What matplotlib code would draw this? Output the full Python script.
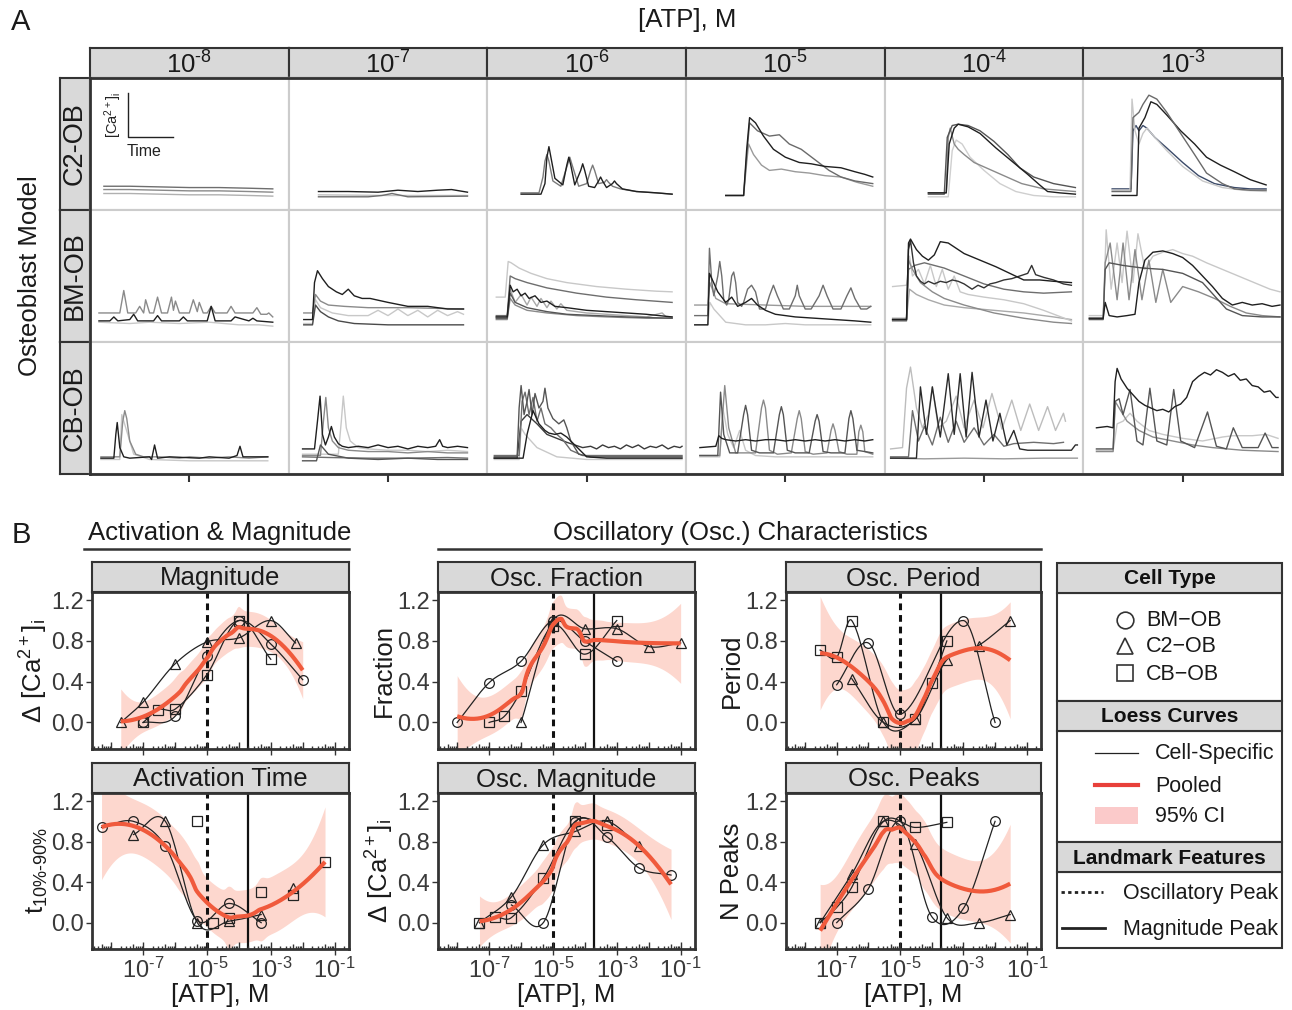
import numpy as np
import matplotlib.pyplot as plt
from matplotlib.patches import Rectangle

plt.rcParams['font.family'] = ['Liberation Sans', 'DejaVu Sans']
plt.rcParams['mathtext.fontset'] = 'custom'
plt.rcParams['mathtext.rm'] = 'Liberation Sans'
plt.rcParams['mathtext.it'] = 'Liberation Sans:italic'
plt.rcParams['mathtext.bf'] = 'Liberation Sans:bold'

# ---------------- Panel A data: [Ca2+]i traces ----------------
# each trace: (time in % of recording window, signal in % of panel height)
atp_cols = [r'$10^{\text{-}8}$', r'$10^{\text{-}7}$', r'$10^{\text{-}6}$',
            r'$10^{\text{-}5}$', r'$10^{\text{-}4}$', r'$10^{\text{-}3}$']
models = ['C2-OB', 'BM-OB', 'CB-OB']

c2_8 = [
    ([7, 20, 35, 50, 65, 80, 92], [18, 18, 17.5, 17, 17, 16.5, 16]),
    ([7, 20, 35, 50, 65, 80, 92], [15.5, 15.5, 15, 14.5, 14.5, 14, 13.5]),
    ([7, 20, 35, 50, 65, 80, 92], [12.5, 12.5, 12, 11.5, 11.5, 11, 10.5]),
]
c2_7 = [
    ([15, 30, 45, 55, 65, 75, 82, 90], [14, 14, 13.5, 15, 14, 15, 15.5, 13.5]),
    ([15, 40, 47, 52, 60, 90], [10, 10, 11, 12.5, 10, 10.5]),
    ([15, 50, 90], [11.5, 11, 11]),
]
c2_6 = [
    ([17, 27, 29, 30, 31, 32, 34, 38, 40, 41, 42, 44, 47, 48, 49, 51, 54, 56, 57, 58, 60, 63,
      64, 65, 68, 75, 85, 93],
     [12, 12, 20, 40, 48, 40, 24, 19, 34, 40, 34, 19, 30, 35, 30, 18, 17, 22, 25, 22, 17, 20,
      22, 20, 16, 14, 13, 12]),
    ([17, 26, 28, 29, 30, 31, 33, 37, 40.5, 41.5, 42.5, 46, 50, 52, 53, 54, 56, 59, 60, 61, 63,
      67, 75, 85, 93],
     [13, 13, 25, 37, 42, 37, 22, 18, 35, 40, 35, 18, 20, 30, 34, 30, 20, 21, 23, 21, 18,
      16, 14, 13, 12]),
]
c2_5 = [
    ([20, 29, 30.5, 32, 35, 39, 44, 50, 57, 63, 70, 78, 85, 90, 94],
     [11, 11, 45, 70, 66, 56, 46, 40, 36, 35, 33, 32, 29, 27, 25]),
    ([20, 29, 30.5, 32, 36, 42, 47, 52, 58, 65, 72, 78, 85, 94],
     [11, 11, 40, 66, 60, 56, 57, 50, 46, 38, 30, 25, 22, 20]),
    ([20, 29, 30.5, 31.5, 34, 38, 42, 48, 55, 62, 70, 78, 86, 94],
     [11, 11, 35, 50, 42, 34, 30, 31, 29, 28, 26, 25, 21, 18]),
]
c2_4 = [
    ([22, 31, 32.5, 35, 37, 42, 48, 56, 64, 72, 78, 82, 88, 96],
     [13, 13, 50, 62, 65, 63, 58, 47, 37, 27, 19, 14, 13, 12]),
    ([22, 30, 31.5, 34, 37, 42, 48, 55, 62, 68, 75, 85, 96],
     [12, 12, 55, 64, 65, 64, 60, 52, 42, 32, 25, 20, 17]),
    ([22, 31, 32, 33, 35, 37, 40, 45, 51, 60, 69, 80, 96],
     [13, 13, 55, 62, 50, 46, 42, 36, 32, 26, 20, 16, 14]),
    ([22, 32, 34, 36, 39, 43, 50, 58, 66, 75, 85, 96],
     [10, 10, 45, 53, 50, 40, 30, 20, 14, 11, 10, 10]),
]
c2_3 = [
    ([14.5, 24, 25, 28, 30, 33, 37, 42, 49, 56, 62, 70, 76, 84, 92],
     [14, 14, 70, 74, 80, 87, 84, 74, 58, 42, 28, 20, 16, 15, 15]),
    ([14.5, 27, 28, 31, 34, 37, 42, 49, 56, 62, 69, 76, 84, 92],
     [11, 11, 62, 70, 82, 80, 72, 60, 50, 40, 34, 29, 23, 19]),
    ([14.5, 23.5, 24.5, 26, 28, 30, 32, 36, 42, 50, 60, 70, 80, 92],
     [15, 15, 84, 60, 50, 58, 62, 55, 45, 33, 22, 17, 15, 14]),
    ([14.5, 24, 25, 26.5, 28, 30, 32, 36, 42, 50, 58, 66, 76, 84, 92],
     [16, 16, 60, 64, 60, 64, 62, 55, 47, 36, 26, 20, 17, 16, 16]),
]

bm_8 = [
    ([4.5, 10, 12, 14, 20, 22, 24, 32, 34, 36, 45, 47, 49, 59, 61, 63, 71, 73, 80, 82, 84, 92],
     [16, 16, 19, 16, 17, 21, 16, 16, 20, 16, 16, 19, 16, 16, 27, 16, 16, 19, 16, 18, 16, 15]),
    ([4.5, 15, 17, 19, 23, 25, 27, 28, 30, 32, 34, 36, 39, 41, 42, 43, 45, 50, 52, 54, 55, 57,
      59, 61, 63, 69, 71, 73, 82, 84, 86, 89, 90, 92],
     [22, 22, 39, 22, 22, 27, 22, 32, 22, 22, 34, 22, 22, 34, 24, 31, 22, 22, 32, 23, 30, 22,
      22, 27, 22, 22, 27, 22, 22, 26, 21, 21, 22, 19]),
    ([4.5, 20, 30, 45, 60, 75, 85, 92], [15, 14, 15, 14, 15, 13, 13, 12]),
]
bm_7 = [
    ([7.6, 12, 13, 14.5, 17, 20, 24, 27, 30, 33, 37, 41, 50, 60, 70, 80, 88],
     [17, 17, 45, 54, 48, 42, 38, 36, 40, 35, 33, 33, 30, 27, 27, 25, 25]),
    ([7.6, 12, 13.5, 16, 20, 28, 40, 60, 88], [22, 22, 36, 31, 28, 27, 26, 26, 25]),
    ([7.6, 12, 13.5, 16, 20, 25, 33, 50, 70, 88], [13, 13, 28, 23, 19, 16, 14, 13, 13, 13]),
    ([7.6, 12, 13.5, 16, 22, 30, 40, 45, 50, 55, 60, 65, 70, 75, 80, 85, 88],
     [14, 14, 32, 26, 22, 20, 20, 24, 20, 25, 20, 24, 19, 24, 20, 23, 21]),
]
bm_6 = [
    ([4.5, 10, 11.5, 13, 15, 17, 19, 21, 24, 27, 30, 34, 40, 50, 60, 70, 80, 93],
     [19, 19, 43, 38, 40, 35, 37, 33, 35, 30, 31, 27, 26, 24, 23, 22, 21, 19]),
    ([4.5, 10, 11.5, 14, 20, 30, 40, 55, 70, 93], [18, 18, 37, 30, 26, 23, 21, 20, 19, 18]),
    ([4.5, 10, 11.5, 14, 20, 30, 45, 60, 80, 93], [17, 17, 33, 28, 24, 22, 20, 19, 18, 18]),
    ([4.5, 9, 10.5, 12, 16, 22, 30, 40, 55, 70, 85, 93], [34, 34, 61, 60, 56, 52, 48, 45, 42, 40, 38.5, 38]),
    ([4.5, 10, 11.5, 14, 20, 30, 45, 60, 75, 93], [20, 20, 50, 48, 45, 41, 37, 34, 32, 30]),
    ([4.5, 10, 11.5, 14, 17, 20, 22, 25, 27, 30, 32, 35, 37, 40, 45, 50, 60, 70, 80, 88, 90, 93],
     [19, 19, 40, 30, 36, 28, 34, 27, 33, 26, 31, 25, 29, 24, 23, 22, 21, 20, 19, 22, 19, 19]),
]
bm_5 = [
    ([4.4, 11, 11.8, 13, 16, 20, 23, 26, 30, 33, 36, 40, 45, 55, 65, 75, 85, 93],
     [13, 13, 52, 48, 38, 30, 34, 27, 30, 33, 28, 24, 21, 19, 18, 17, 16, 15]),
    ([4.4, 11, 11.8, 13, 14, 16, 17, 18, 19, 20.5, 21.5, 23, 24, 25, 26, 28, 29, 31, 33, 35, 37,
      40, 42, 44, 46, 49, 52, 55, 56, 57, 60, 63, 67, 69, 71, 74, 78, 81, 83, 85, 88, 91, 93],
     [20, 20, 71, 45, 35, 50, 61, 50, 32, 28, 32, 50, 53, 45, 30, 27, 30, 40, 43, 38, 25, 25, 35,
      43, 35, 25, 25, 35, 43, 35, 25, 25, 35, 43, 35, 25, 25, 35, 41, 33, 25, 25, 27]),
    ([4.4, 11, 12, 15, 20, 40, 60, 93], [28, 28, 45, 33, 29, 28, 27, 27]),
    ([4.4, 11, 12, 14, 20, 30, 40, 50, 60, 75, 93], [13, 13, 30, 25, 15, 13, 13, 14, 13, 13, 13]),
]
bm_4 = [
    ([4, 11, 12, 13, 16, 19, 22, 25, 28, 32, 36, 40, 48, 56, 63, 70, 78, 85, 94],
     [17, 17, 75, 78, 70, 65, 62, 66, 76, 75, 71, 67, 62, 57, 52, 47, 47, 46, 45]),
    ([4, 11, 12, 13, 14.5, 16, 18, 20, 22, 25, 28, 31, 34, 37, 40, 44, 47, 50, 53, 56, 60, 64,
      68, 72, 74, 76, 80, 85, 90, 94],
     [17, 17, 70, 77, 60, 50, 46, 44, 46, 44, 46, 45, 47, 46, 44, 40, 43, 41, 44, 45, 47, 48,
      50, 52, 58, 51, 49, 47, 44, 43]),
    ([4, 11, 12, 14, 18, 24, 30, 40, 55, 70, 85, 94], [17, 17, 62, 55, 45, 38, 33, 28, 22, 18, 15, 14]),
    ([4, 11, 12.5, 14, 17, 20, 23, 26, 29, 32, 35, 38, 42, 50, 60, 70, 80, 94],
     [42, 43, 65, 50, 55, 44, 58, 42, 55, 40, 50, 38, 36, 34, 32, 29, 24, 16]),
    ([4, 11, 12, 15, 20, 30, 40, 50, 60, 70, 80, 94], [16, 16, 55, 58, 60, 56, 50, 44, 40, 38, 37, 38]),
    ([4, 11, 12.5, 16, 22, 30, 40, 55, 70, 85, 94], [18, 18, 40, 36, 32, 28, 26, 24, 22, 19, 17]),
]
bm_3 = [
    ([3, 10, 11, 13, 17, 22, 26, 28, 31, 35, 40, 45, 50, 55, 60, 65, 70, 75, 80, 85, 90, 95, 99],
     [18, 18, 30, 20, 19, 20, 21, 45, 62, 68, 69, 67, 64, 58, 50, 42, 33, 28, 30, 28, 29, 27, 28]),
    ([3, 10, 11, 13, 20, 30, 40, 50, 60, 66, 72, 80, 90, 99], [17, 17, 55, 60, 58, 56, 55, 52, 45, 35, 25, 20, 19, 19]),
    ([3, 10, 11, 13.5, 17, 20, 23, 26, 29.5, 33, 36.5, 40, 44, 50, 58, 66, 74, 82, 90, 99],
     [18, 18, 60, 75, 32, 75, 32, 70, 32, 62, 30, 55, 30, 42, 38, 33, 27, 22, 20, 19]),
    ([3, 10, 11.5, 14, 17, 19.5, 22, 25, 27.5, 31, 35, 40, 45, 50, 55, 62, 70, 78, 86, 94, 99],
     [20, 20, 85, 40, 75, 45, 84, 45, 82, 55, 65, 68, 70, 67, 65, 60, 55, 50, 45, 40, 38]),
]

cb_8 = [
    ([5.5, 12, 13, 13.7, 15, 17, 20, 30, 31, 32.5, 34, 40, 55, 60, 70, 74, 75.5, 77, 85, 89.5],
     [12, 12, 30, 39, 20, 13, 12, 13, 11, 22, 12, 13, 12, 13, 12, 14, 21, 13, 13, 13]),
    ([5.5, 15, 16.5, 17.5, 18.5, 20, 23, 27, 35, 45, 50, 60, 70, 80, 89.5],
     [13, 13, 40, 48, 42, 25, 15, 13, 13, 12, 13, 12, 13, 12, 13]),
    ([5.5, 15, 16, 18, 22, 30, 50, 70, 89.5], [11, 11, 45, 35, 15, 11, 10, 10, 10]),
]
cb_7 = [
    ([7, 13, 14.5, 15.8, 17, 18.5, 20, 21.5, 23, 25, 27, 30, 35, 40, 45, 50, 55, 60, 65, 70, 74,
      76, 77.5, 80, 85, 90],
     [19, 19, 40, 59, 30, 22, 28, 36, 28, 23, 21, 20, 21, 20, 22, 20, 21, 19, 21, 20, 21,
      26, 21, 20, 21, 20]),
    ([7, 14, 16, 20, 30, 45, 60, 75, 90], [10, 10, 22, 15, 12, 11, 12, 11, 11]),
    ([7, 16, 17.5, 18.7, 20, 22, 25, 30, 40, 50, 60, 70, 80, 90],
     [14, 14, 40, 58, 35, 25, 20, 18, 17, 17, 16, 17, 16, 16]),
    ([7, 25, 26.5, 27.5, 29, 31, 35, 40, 50, 60, 70, 80, 90],
     [15, 15, 40, 59, 35, 25, 20, 19, 18, 18, 17, 18, 17]),
    ([7, 20, 40, 60, 80, 90], [13, 12.5, 12, 12, 12.5, 12]),
]
cb_6 = [
    ([3.5, 18, 20, 23, 26, 29, 31, 34, 37, 40, 44, 50, 60, 98],
     [12, 12, 30, 48, 38, 33, 31, 30, 31, 28, 22, 13, 12, 12]),
    ([3.5, 15, 16, 17, 18.5, 20, 21, 22.5, 24, 26, 28, 29, 30.5, 33, 36, 38.5, 40, 42, 46, 52, 98],
     [13, 13, 50, 67, 45, 55, 64, 45, 61, 50, 55, 65, 50, 42, 38, 41, 35, 25, 15, 13, 13]),
    ([3.5, 16, 17.5, 19, 21, 23, 25, 27, 29, 32, 35, 38, 42, 48, 98],
     [14, 14, 55, 62, 45, 58, 40, 50, 38, 35, 30, 26, 18, 14, 14]),
    ([3.5, 16, 17, 19, 25, 35, 50, 70, 98], [11, 11, 35, 30, 20, 13, 11, 11, 11]),
    ([3.5, 15, 17, 20, 25, 30, 40, 48, 52, 55, 58, 61, 64, 67, 70, 73, 76, 79, 82, 85, 88, 91, 94, 97, 98],
     [12, 12, 40, 45, 38, 30, 24, 20, 21, 19, 22, 20, 21, 19, 22, 20, 22, 19, 21, 20, 22, 19, 21, 20, 21]),
]
cb_5 = [
    ([7, 15, 16.5, 18, 20, 25, 30, 35, 40, 45, 50, 55, 60, 65, 70, 75, 80, 85, 90, 94],
     [20, 21, 29, 27, 26, 25, 26, 25, 26, 26, 25, 26, 25, 26, 25, 26, 25, 26, 25, 26]),
    ([7, 16, 17.4, 19, 22, 26, 29, 30, 31, 33, 37, 44, 47, 48, 49, 51, 55, 62, 65, 66, 67, 69,
      73, 80, 82, 83, 84, 86, 94],
     [14, 14, 62, 30, 16, 16, 45, 52, 45, 18, 16, 16, 45, 51, 45, 18, 16, 16, 40, 45, 40, 17,
      16, 16, 42, 48, 42, 18, 16]),
    ([7, 17, 19.5, 21.5, 25, 35, 38, 39, 40, 42, 46, 53, 56, 57, 58, 60, 64, 71, 73, 74, 75, 77,
      81, 86, 87, 88, 89, 90, 94],
     [14, 14, 67, 35, 16, 16, 50, 56, 50, 18, 15, 16, 42, 48, 42, 17, 15, 16, 33, 38, 33, 17,
      15, 15, 32, 37, 32, 17, 15]),
    ([7, 17, 18.5, 21, 24, 27, 30, 35, 45, 55, 65, 75, 85, 94],
     [13, 13, 50, 30, 20, 33, 18, 14, 13, 13, 13, 13, 13, 13]),
]
cb_4 = [
    ([3, 16, 18, 21, 24, 28, 32, 35, 38, 41, 44, 47.5, 51, 54.5, 58, 61.5, 65, 68, 72, 80, 88, 94, 96, 97],
     [12, 12, 66, 30, 66, 28, 76, 30, 76, 28, 77, 28, 56, 25, 46, 22, 33, 19, 18, 18, 18, 18, 22, 22]),
    ([3, 12, 14, 17, 20, 24, 28, 32, 36, 40, 45, 50, 55, 60, 65, 75, 85, 90],
     [13, 13, 48, 25, 36, 22, 43, 24, 40, 24, 35, 22, 30, 21, 23, 24, 23, 24]),
    ([3, 9, 11, 13, 16, 19, 22, 24, 27, 31, 36, 40, 45, 49.5, 54, 59, 64, 68.5, 73, 77.5, 82, 86, 90, 91],
     [19, 20, 65, 81, 50, 35, 45, 66, 35, 40, 59, 35, 56, 35, 61, 34, 56, 33, 53, 33, 51, 33, 46, 40]),
    ([3, 20, 40, 60, 80, 97], [12, 11.5, 12, 11.5, 12, 12]),
]
cb_3 = [
    ([6.6, 12, 15, 16, 17, 19, 22, 25, 28, 31, 34, 37, 40, 43, 46, 49, 52, 55, 58, 61, 64, 67, 70,
      73, 76, 79, 82, 85, 88, 91, 94, 97, 98],
     [35, 36, 35, 70, 80, 72, 65, 60, 55, 52, 50, 48, 49, 47, 51, 53, 58, 70, 74, 77, 75, 79, 77,
      74, 76, 71, 72, 67, 66, 62, 63, 58, 58]),
    ([6.6, 15, 16, 18, 20, 23.5, 27, 30, 33.5, 37, 42, 45.5, 49, 56, 62.5, 67, 72, 75.5, 80, 88, 91.5, 95, 98],
     [19, 19, 55, 57, 45, 64, 25, 22, 65, 25, 22, 64, 25, 20, 47, 21, 19, 35, 20, 20, 31, 20, 20]),
    ([6.6, 15, 16, 18, 22, 28, 35, 45, 55, 65, 80, 98], [17, 17, 55, 50, 40, 33, 28, 25, 22, 20, 18, 17]),
    ([6.6, 15, 17, 20, 23.5, 27, 33, 40, 50, 60, 70, 75, 80, 85, 92, 98],
     [18, 18, 38, 40, 46, 40, 33, 30, 27, 25, 28, 29, 29, 29, 30, 27]),
]

traces = [[c2_8, c2_7, c2_6, c2_5, c2_4, c2_3],
          [bm_8, bm_7, bm_6, bm_5, bm_4, bm_3],
          [cb_8, cb_7, cb_6, cb_5, cb_4, cb_3]]

# ---------------- Panel B data (normalised features vs [ATP], M) ----------------
mag_bm_x = [1e-7, 1e-6, 1e-5, 1e-4, 1e-3, 1e-2]
mag_bm_y = [0.0, 0.06, 0.65, 1.0, 0.77, 0.42]
mag_c2_x = [2e-8, 1e-7, 1e-6, 1e-5, 1e-4, 1e-3, 6e-3]
mag_c2_y = [0.0, 0.20, 0.575, 0.79, 0.83, 1.0, 0.78]
mag_cb_x = [1e-7, 3e-7, 1e-6, 1e-5, 1e-4, 1e-3]
mag_cb_y = [0.0, 0.125, 0.13, 0.47, 1.0, 0.62]

act_bm_x = [5e-9, 5e-8, 5e-7, 5e-6, 5e-5, 5e-4]
act_bm_y = [0.94, 1.0, 0.755, 0.02, 0.19, 0.0]
act_c2_x = [5e-8, 5e-7, 5e-6, 5e-5, 5e-4, 5e-3]
act_c2_y = [0.87, 1.0, 0.0, 0.015, 0.08, 0.34]
act_cb_x = [5e-6, 1.5e-5, 5e-5, 5e-4, 5e-3, 5e-2]
act_cb_y = [1.0, 0.0, 0.05, 0.30, 0.27, 0.60]

fr_bm_x = [1e-8, 1e-7, 1e-6, 1e-5, 1e-4, 1e-3]
fr_bm_y = [0.0, 0.39, 0.60, 1.0, 0.795, 0.60]
fr_c2_x = [1e-6, 1e-5, 1e-4, 1e-3, 1e-2, 1e-1]
fr_c2_y = [0.0, 1.0, 0.92, 0.92, 0.745, 0.78]
fr_cb_x = [1e-7, 3e-7, 1e-6, 1e-5, 1e-4, 1e-3]
fr_cb_y = [0.0, 0.06, 0.31, 0.95, 0.67, 1.0]

om_bm_x = [5e-7, 5e-6, 5e-5, 5e-4, 5e-3, 5e-2]
om_bm_y = [0.175, 0.0, 0.99, 0.845, 0.54, 0.47]
om_c2_x = [5e-8, 5e-7, 5e-6, 5e-5, 5e-4, 5e-3]
om_c2_y = [0.0, 0.255, 0.77, 0.90, 1.0, 0.755]
om_cb_x = [5e-8, 1.5e-7, 5e-7, 5e-6, 5e-5, 5e-4]
om_cb_y = [0.0, 0.055, 0.05, 0.44, 1.0, 0.96]

pe_bm_x = [1e-7, 1e-6, 1e-5, 1e-3, 1e-2]
pe_bm_y = [0.37, 0.78, 0.08, 1.0, 0.0]
pe_c2_x = [3e-7, 3e-6, 3e-5, 3e-4, 3e-3, 3e-2]
pe_c2_y = [0.43, 0.0, 0.03, 0.615, 0.755, 1.0]
pe_cb_x = [3e-8, 1e-7, 3e-7, 3e-6, 3e-5, 1e-4, 3e-4]
pe_cb_y = [0.71, 0.64, 1.0, 0.0, 0.03, 0.39, 0.80]

pk_bm_x = [1e-7, 1e-6, 1e-5, 1e-4, 1e-3, 1e-2]
pk_bm_y = [0.0, 0.335, 1.0, 0.06, 0.14, 1.0]
pk_c2_x = [3e-8, 3e-7, 3e-6, 3e-5, 3e-4, 3e-3, 3e-2]
pk_c2_y = [0.0, 0.48, 1.0, 0.78, 0.05, 0.0, 0.08]
pk_cb_x = [3e-8, 1e-7, 3e-7, 3e-6, 3e-5, 3e-4]
pk_cb_y = [0.0, 0.15, 0.35, 1.0, 0.94, 0.99]

osc_peak_atp = 1e-5   # landmark: oscillatory peak
mag_peak_atp = 2e-4   # landmark: magnitude peak


# ---------------- helpers ----------------
def loess(x, y, xg, span=0.75):
    """local quadratic regression (tricube weights) with 95% CI"""
    n = len(x)
    q = int(np.floor(n * span))

    def lrow(x0):
        d = np.abs(x - x0)
        h = np.sort(d)[q - 1] * 1.0000001
        w = np.clip(1 - (d / h) ** 3, 0, 1) ** 3
        X = np.column_stack([np.ones(n), x - x0, (x - x0) ** 2])
        XtW = X.T * w
        return np.linalg.solve(XtW @ X + 1e-10 * np.eye(3), XtW)[0]

    L = np.array([lrow(v) for v in x])
    Lg = np.array([lrow(v) for v in xg])
    fit = Lg @ y
    M = (np.eye(n) - L).T @ (np.eye(n) - L)
    d1, d2 = np.trace(M), np.trace(M @ M)
    s = np.sqrt(np.sum((y - L @ y) ** 2) / d1)
    df = d1 ** 2 / d2
    z = 1.959964
    t = (z + (z**3 + z) / (4 * df) + (5 * z**5 + 16 * z**3 + 3 * z) / (96 * df**2)
         + (3 * z**7 + 19 * z**5 + 17 * z**3 - 15 * z) / (384 * df**3))
    se = s * np.sqrt(np.sum(Lg ** 2, axis=1))
    return fit, fit - t * se, fit + t * se


def smooth_curve(x, y, xg):
    """cubic Hermite curve through the points"""
    n = len(x)
    m = np.empty(n)
    m[1:-1] = (y[2:] - y[:-2]) / (x[2:] - x[:-2])
    m[0] = (y[1] - y[0]) / (x[1] - x[0])
    m[-1] = (y[-1] - y[-2]) / (x[-1] - x[-2])
    i = np.clip(np.searchsorted(x, xg, side='right') - 1, 0, n - 2)
    h = x[i + 1] - x[i]
    s = (xg - x[i]) / h
    return ((2 * s**3 - 3 * s**2 + 1) * y[i] + (s**3 - 2 * s**2 + s) * h * m[i]
            + (-2 * s**3 + 3 * s**2) * y[i + 1] + (s**3 - s**2) * h * m[i + 1])


W, H = 1292, 1010


def box(x0, y0, x1, y1):
    return [x0 / W, 1 - y1 / H, (x1 - x0) / W, (y1 - y0) / H]


DARK = '#333333'
STRIP = '#d9d9d9'
RED = '#f05a3c'
CI = '#fdd7ce'
INK = '#1a1a1a'

fig = plt.figure(figsize=(W / 100, H / 100), dpi=100)

# ---------------- Panel A ----------------
col_x = np.linspace(90, 1282, 7)
row_y = [78, 210, 342, 474]
tones = ['#1f1f1f', '#555555', '#8a8a8a', '#c8c8c8', '#6e6e6e', '#a9a9a9']
tone_override = {
    (0, 0): ['#6e6e6e', '#8a8a8a', '#b0b0b0'],
    (0, 1): ['#1f1f1f', '#6e6e6e', '#c0c0c0'],
    (0, 2): ['#1f1f1f', '#7a7a7a'],
    (0, 3): ['#1f1f1f', '#6a6a6a', '#9a9a9a'],
    (0, 4): ['#1f1f1f', '#555555', '#8a8a8a', '#cfcfcf'],
    (0, 5): ['#6a6a6a', '#1f1f1f', '#c8c8c8', '#3b4a68'],
    (1, 0): ['#1f1f1f', '#8a8a8a', '#c8c8c8'],
    (1, 1): ['#1f1f1f', '#8a8a8a', '#4a4a4a', '#c8c8c8'],
    (1, 3): ['#1f1f1f', '#6e6e6e', '#9a9a9a', '#c8c8c8'],
    (1, 4): ['#1f1f1f', '#333333', '#8a8a8a', '#c8c8c8', '#6e6e6e', '#a9a9a9'],
    (2, 0): ['#1f1f1f', '#8a8a8a', '#c8c8c8'],
    (2, 2): ['#1f1f1f', '#555555', '#6e6e6e', '#c8c8c8', '#3a3a3a'],
    (2, 4): ['#2a2a2a', '#6e6e6e', '#bdbdbd', '#9a9a9a'],
}

for j in range(6):
    hx = fig.add_axes(box(col_x[j], 48, col_x[j + 1], 78))
    hx.set_facecolor(STRIP)
    hx.set_xticks([]); hx.set_yticks([])
    for sp in hx.spines.values():
        sp.set_color(DARK); sp.set_linewidth(1.5)
    hx.text(0.5, 0.42, atp_cols[j], ha='center', va='center', fontsize=18.5,
            color=INK, transform=hx.transAxes)

for i in range(3):
    sx = fig.add_axes(box(60, row_y[i], 90, row_y[i + 1]))
    sx.set_facecolor(STRIP)
    sx.set_xticks([]); sx.set_yticks([])
    for sp in sx.spines.values():
        sp.set_color(DARK); sp.set_linewidth(1.5)
    sx.text(0.5, 0.5, models[i], rotation=90, ha='center', va='center', fontsize=19.5,
            color=INK, transform=sx.transAxes)
    for j in range(6):
        cx = fig.add_axes(box(col_x[j], row_y[i], col_x[j + 1], row_y[i + 1]))
        cx.set_xlim(0, 100); cx.set_ylim(0, 100)
        cx.set_xticks([]); cx.set_yticks([])
        for sp in cx.spines.values():
            sp.set_color('#cccccc'); sp.set_linewidth(1.5)
        cols = tone_override.get((i, j), tones)
        cell = traces[i][j]
        for k in reversed(range(len(cell))):
            t, v = cell[k]
            cx.plot(t, v, color=cols[k % len(cols)], lw=1.0, solid_joinstyle='round')
        if i == 0 and j == 0:
            cx.plot([19, 19, 42], [89, 55, 55], color='#222222', lw=1.0)
            cx.text(11.5, 72, r'$[\mathrm{Ca}^{2+}]_\mathrm{i}$', rotation=90, ha='center',
                    va='center', fontsize=10.5, color='#222222')
            cx.text(27, 44, 'Time', ha='center', va='center', fontsize=11.5, color='#222222')

frame = fig.add_axes(box(90, 78, 1282, 474))
frame.set_facecolor('none')
frame.set_xlim(0, 6); frame.set_ylim(0, 1)
frame.set_xticks(np.arange(6) + 0.5)
frame.set_xticklabels([])
frame.set_yticks([])
frame.tick_params(axis='x', length=6, width=1.5, color=DARK)
for sp in frame.spines.values():
    sp.set_color(DARK); sp.set_linewidth(2)

# ---------------- Panel B ----------------
markers = ['o', '^', 's']   # BM-OB, C2-OB, CB-OB
ca_lab = r'$\Delta\ [\mathrm{Ca}^{2+}]_\mathrm{i}$'
panels = [
    ('Magnitude', ca_lab, [(mag_bm_x, mag_bm_y), (mag_c2_x, mag_c2_y), (mag_cb_x, mag_cb_y)],
     [np.inf, np.inf, np.inf]),
    ('Osc. Fraction', 'Fraction', [(fr_bm_x, fr_bm_y), (fr_c2_x, fr_c2_y), (fr_cb_x, fr_cb_y)],
     [np.inf, np.inf, np.inf]),
    ('Osc. Period', 'Period', [(pe_bm_x, pe_bm_y), (pe_c2_x, pe_c2_y), (pe_cb_x, pe_cb_y)],
     [np.inf, np.inf, np.inf]),
    ('Activation Time', r'$\mathrm{t}_{10\%\text{-}90\%}$',
     [(act_bm_x, act_bm_y), (act_c2_x, act_c2_y), (act_cb_x, act_cb_y)],
     [np.inf, 1e-3, None]),
    ('Osc. Magnitude', ca_lab, [(om_bm_x, om_bm_y), (om_c2_x, om_c2_y), (om_cb_x, om_cb_y)],
     [np.inf, np.inf, np.inf]),
    ('Osc. Peaks', 'N Peaks', [(pk_bm_x, pk_bm_y), (pk_c2_x, pk_c2_y), (pk_cb_x, pk_cb_y)],
     [np.inf, np.inf, np.inf]),
]
bx = [(92, 349), (438, 695), (786, 1041)]
by = [(562, 592, 749), (763, 793, 949)]
xlab = [r'$10^{\text{-}7}$', r'$10^{\text{-}5}$', r'$10^{\text{-}3}$', r'$10^{\text{-}1}$']

for p, (title, ylab, series, curve_max) in enumerate(panels):
    r, c = divmod(p, 3)
    x0, x1 = bx[c]
    s0, s1, y1 = by[r]
    st = fig.add_axes(box(x0, s0, x1, s1))
    st.set_facecolor(STRIP)
    st.set_xticks([]); st.set_yticks([])
    for sp in st.spines.values():
        sp.set_color(DARK); sp.set_linewidth(1.5)
    st.text(0.5, 0.45, title, ha='center', va='center', fontsize=18.5, color=INK,
            transform=st.transAxes)

    ax = fig.add_axes(box(x0, s1, x1, y1))
    ax.set_xscale('log')
    ax.set_xlim(10 ** -8.6, 10 ** -0.55)
    ax.set_ylim(-0.26, 1.28)

    # pooled loess + CI
    lx = np.log10(np.concatenate([np.array(s[0]) for s in series]))
    ly = np.concatenate([np.array(s[1]) for s in series])
    order = np.argsort(lx, kind='stable')
    lx, ly = lx[order], ly[order]
    xg = np.linspace(lx.min(), lx.max(), 200)
    fit, lo, hi = loess(lx, ly, xg)
    ax.fill_between(10 ** xg, lo, hi, color=CI, lw=0, zorder=1)

    ax.axvline(osc_peak_atp, color='#111111', lw=2.2, ls=(0, (2.2, 1.6)), zorder=2)
    ax.axvline(mag_peak_atp, color='#111111', lw=1.6, zorder=2)

    for (sx_, sy_), mk, cm in zip(series, markers, curve_max):
        xs = np.log10(np.array(sx_))
        ys = np.array(sy_)
        if cm is not None:
            keep = xs <= np.log10(cm) + 1e-9
            cxs, cys = xs[keep], ys[keep]
            g = np.linspace(cxs[0], cxs[-1], 200)
            ax.plot(10 ** g, smooth_curve(cxs, cys, g), color='#222222', lw=0.9, zorder=3)
        ax.plot(sx_, sy_, ls='none', marker=mk, ms=7, mfc='none', mec='#222222', mew=0.9,
                zorder=4)

    ax.plot(10 ** xg, fit, color=RED, lw=3, zorder=5, solid_capstyle='butt')

    # log tick annotation along the bottom (inside)
    tk_x, tk_h = [], []
    for e in range(-9, 1):
        for m in range(1, 10):
            v = m * 10.0 ** e
            if 10 ** -8.6 <= v <= 10 ** -0.55:
                tk_x.append(v)
                tk_h.append(7 / 157 if m == 1 else (5 / 157 if m == 5 else 3 / 157))
    ax.vlines(tk_x, 0, tk_h, transform=ax.get_xaxis_transform(), color=DARK, lw=1.0, zorder=6)

    ax.set_xticks([1e-7, 1e-5, 1e-3, 1e-1])
    ax.xaxis.set_minor_locator(plt.NullLocator())
    if r == 1:
        ax.set_xticklabels(xlab)
        ax.set_xlabel('[ATP], M', fontsize=18.5, color=INK, labelpad=0)
    else:
        ax.set_xticklabels([])
    ax.set_yticks([0.0, 0.4, 0.8, 1.2])
    ax.set_yticklabels(['0.0', '0.4', '0.8', '1.2'])
    ax.tick_params(axis='both', direction='out', length=4, width=1, color=DARK,
                   labelsize=17, labelcolor='#3a3a3a', pad=2)
    ax.set_ylabel(ylab, fontsize=18.5, color=INK, labelpad=1)
    for sp in ax.spines.values():
        sp.set_color(DARK); sp.set_linewidth(2)

# ---------------- overlay: titles, section headers, legend ----------------
ov = fig.add_axes([0, 0, 1, 1])
ov.set_xlim(0, W); ov.set_ylim(H, 0)
ov.axis('off')
ov.set_zorder(10)
ov.text(21, 22, 'A', ha='center', va='center', fontsize=21, color=INK)
ov.text(687, 20, '[ATP], M', ha='center', va='center', fontsize=18.5, color=INK)
ov.text(30, 276, 'Osteoblast Model', rotation=90, ha='center', va='center', fontsize=18.5,
        color=INK)
ov.text(21, 535, 'B', ha='center', va='center', fontsize=21, color=INK)
ov.text(220, 533, 'Activation & Magnitude', ha='center', va='center', fontsize=18.5,
        color=INK)
ov.plot([84, 349], [549, 549], color=DARK, lw=1.8)
ov.text(740, 533, 'Oscillatory (Osc.) Characteristics', ha='center', va='center', fontsize=18.5,
        color=INK)
ov.plot([438, 1041], [549, 549], color=DARK, lw=1.8)

# legend blocks
sections = [('Cell Type', 563, 593, 701), ('Loess Curves', 701, 731, 842),
            ('Landmark Features', 842, 872, 948)]
for name, t0, t1, b1 in sections:
    ov.add_patch(Rectangle((1057, t1), 225, b1 - t1, fc='white', ec=DARK, lw=1.5))
    ov.add_patch(Rectangle((1057, t0), 225, t1 - t0, fc=STRIP, ec=DARK, lw=1.5))
    ov.text(1169.5, (t0 + t1) / 2 + 1, name, ha='center', va='center', fontsize=15,
            fontweight='bold', color='#111111')

for mk, lab, yy in zip(markers, ['BM\u2212OB', 'C2\u2212OB', 'CB\u2212OB'], [620, 646, 673]):
    ov.plot(1125, yy, marker=mk, ms=12, mfc='none', mec=DARK, mew=1.2, ls='none')
    ov.text(1146, yy + 1, lab, ha='left', va='center', fontsize=15.5, color=INK)

ov.plot([1095, 1138], [753, 753], color='#222222', lw=0.9)
ov.text(1155, 754, 'Cell-Specific', ha='left', va='center', fontsize=15.5, color=INK)
ov.plot([1095, 1138], [785, 785], color='#e8403a', lw=3)
ov.text(1155, 786, 'Pooled', ha='left', va='center', fontsize=15.5, color=INK)
ov.add_patch(Rectangle((1095, 807), 43, 17, fc='#fbcaca', ec='none'))
ov.text(1155, 816, '95% CI', ha='left', va='center', fontsize=15.5, color=INK)

ov.plot([1061, 1103], [892, 892], color='#222222', lw=2, ls=(0, (1.2, 1.2)))
ov.text(1123, 893, 'Oscillatory Peak', ha='left', va='center', fontsize=15.5, color=INK)
ov.plot([1062, 1105], [928, 928], color='#222222', lw=2)
ov.text(1123, 929, 'Magnitude Peak', ha='left', va='center', fontsize=15.5, color=INK)

fig.savefig('out.png', dpi=100)
